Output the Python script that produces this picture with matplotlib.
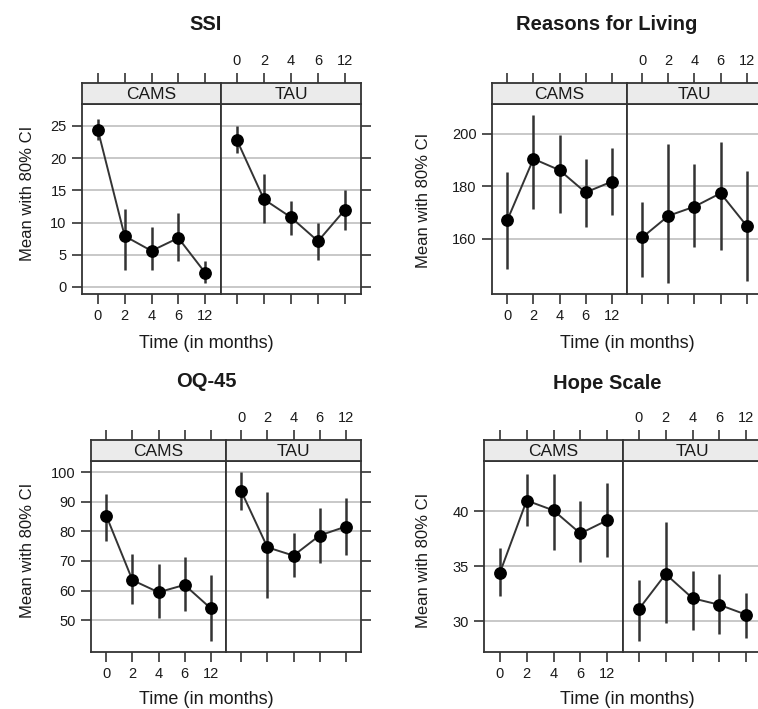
import matplotlib
matplotlib.use("Agg")
import matplotlib.pyplot as plt
import numpy as np

plt.rcParams['font.family'] = ['Liberation Sans', 'DejaVu Sans']

# canvas size in pixels
W, H = 758, 709

times = ['0', '2', '4', '6', '12']
groups = ['CAMS', 'TAU']

# SSI
ssi_cams = [24.4, 7.9, 5.6, 7.6, 2.2]
ssi_cams_lo = [22.8, 2.7, 2.7, 4.1, 0.6]
ssi_cams_hi = [26.1, 12.1, 9.3, 11.5, 4.1]
ssi_tau = [22.8, 13.6, 10.8, 7.1, 12.0]
ssi_tau_lo = [20.8, 9.9, 8.1, 4.25, 8.9]
ssi_tau_hi = [25.0, 17.6, 13.3, 10.0, 15.0]

# Reasons for Living
rfl_cams = [167.2, 190.5, 186.2, 177.7, 181.8]
rfl_cams_lo = [148.4, 171.4, 170.0, 164.7, 169.1]
rfl_cams_hi = [185.3, 207.2, 199.6, 190.6, 194.7]
rfl_tau = [160.6, 168.8, 172.3, 177.4, 165.0]
rfl_tau_lo = [145.4, 143.1, 156.8, 155.6, 144.0]
rfl_tau_hi = [174.2, 196.2, 188.4, 197.1, 186.0]

# OQ-45
oq_cams = [85.2, 63.5, 59.4, 61.9, 54.0]
oq_cams_lo = [76.7, 55.4, 50.8, 53.2, 43.0]
oq_cams_hi = [92.7, 72.3, 69.0, 71.2, 65.2]
oq_tau = [93.5, 74.6, 71.8, 78.6, 81.6]
oq_tau_lo = [87.2, 57.3, 64.4, 69.2, 72.0]
oq_tau_hi = [100.0, 93.2, 79.3, 88.0, 91.2]

# Hope Scale
hope_cams = [34.4, 41.0, 40.1, 38.0, 39.2]
hope_cams_lo = [32.3, 38.7, 36.5, 35.4, 35.9]
hope_cams_hi = [36.7, 43.4, 43.4, 41.0, 42.6]
hope_tau = [31.1, 34.3, 32.1, 31.5, 30.6]
hope_tau_lo = [28.2, 29.8, 29.2, 28.8, 28.5]
hope_tau_hi = [33.8, 39.0, 34.6, 34.3, 32.6]

DARK = '#333333'
GRID = '#c8c8c8'
STRIP = '#ebebeb'
TXT = '#1a1a1a'


def to_fig(x0, y0, x1, y1):
    return [x0 / W, 1 - y1 / H, (x1 - x0) / W, (y1 - y0) / H]


def draw_panel(fig, box, ylim, yticks, series, title, title_xy, ylab_xy, xlab_xy):
    left, mid, right, top, strip_bot, bottom = box
    xs = np.arange(1, len(times) + 1)
    for i, g in enumerate(groups):
        x0, x1 = (left, mid) if i == 0 else (mid, right)
        mean, lo, hi = series[i]
        ax = fig.add_axes(to_fig(x0, strip_bot, x1, bottom))
        for yt in yticks:
            ax.axhline(yt, color=GRID, lw=1.4, zorder=0)
        ax.vlines(xs, lo, hi, color=DARK, lw=1.8, zorder=2)
        ax.plot(xs, mean, '-', color=DARK, lw=1.4, zorder=3)
        ax.plot(xs, mean, 'o', color='black', ms=8.2, zorder=4)
        ax.set_xlim(0.41, 5.59)
        ax.set_ylim(*ylim)
        ax.set_xticks(xs)
        ax.set_xticklabels(times)
        ax.set_yticks(yticks)
        ax.tick_params(direction='out', length=7, width=1.2, color=DARK,
                       labelsize=10.5, labelcolor=TXT, pad=4, top=False,
                       labelbottom=(i == 0),
                       left=(i == 0), labelleft=(i == 0),
                       right=(i == 1), labelright=False)
        for sp in ax.spines.values():
            sp.set_color(DARK)
            sp.set_linewidth(1.3)

        sx = fig.add_axes(to_fig(x0, top, x1, strip_bot))
        sx.set_facecolor(STRIP)
        sx.set_xlim(0.41, 5.59)
        sx.set_ylim(0, 1)
        sx.set_yticks([])
        sx.xaxis.tick_top()
        sx.set_xticks(xs)
        sx.set_xticklabels(times)
        sx.tick_params(direction='out', length=7, width=1.2, color=DARK,
                       labelsize=10.5, labelcolor=TXT, pad=4, bottom=False,
                       labelbottom=False, labeltop=(i == 1))
        sx.text(0.5, 0.45, g, transform=sx.transAxes, ha='center', va='center',
                fontsize=12.5, color=TXT)
        for sp in sx.spines.values():
            sp.set_color(DARK)
            sp.set_linewidth(1.3)

    fig.text(title_xy[0] / W, 1 - title_xy[1] / H, title, ha='center', va='center',
             fontsize=14.5, fontweight='bold', color=TXT)
    fig.text(ylab_xy[0] / W, 1 - ylab_xy[1] / H, 'Mean with 80% CI', rotation=90,
             ha='center', va='center', fontsize=12, color=TXT)
    fig.text(xlab_xy[0] / W, 1 - xlab_xy[1] / H, 'Time (in months)', ha='center',
             va='center', fontsize=13, color=TXT)


fig = plt.figure(figsize=(W / 100, H / 100), dpi=100)

draw_panel(fig, (82, 221, 361, 83, 104, 294), (-1.1, 28.4), [0, 5, 10, 15, 20, 25],
           [(ssi_cams, ssi_cams_lo, ssi_cams_hi), (ssi_tau, ssi_tau_lo, ssi_tau_hi)],
           'SSI', (206, 25), (27, 193), (206, 343))

draw_panel(fig, (492, 627, 762, 83, 104, 294), (139.0, 211.4), [160, 180, 200],
           [(rfl_cams, rfl_cams_lo, rfl_cams_hi), (rfl_tau, rfl_tau_lo, rfl_tau_hi)],
           'Reasons for Living', (607, 25), (423, 200), (627, 343))

draw_panel(fig, (91, 226, 361, 440, 461, 652), (39.2, 103.8), [50, 60, 70, 80, 90, 100],
           [(oq_cams, oq_cams_lo, oq_cams_hi), (oq_tau, oq_tau_lo, oq_tau_hi)],
           'OQ-45', (206, 381), (27, 550), (206, 700))

draw_panel(fig, (484, 623, 762, 440, 461, 652), (27.2, 44.6), [30, 35, 40],
           [(hope_cams, hope_cams_lo, hope_cams_hi), (hope_tau, hope_tau_lo, hope_tau_hi)],
           'Hope Scale', (607, 383), (423, 560), (627, 700))

fig.savefig('out.png', dpi=100)
